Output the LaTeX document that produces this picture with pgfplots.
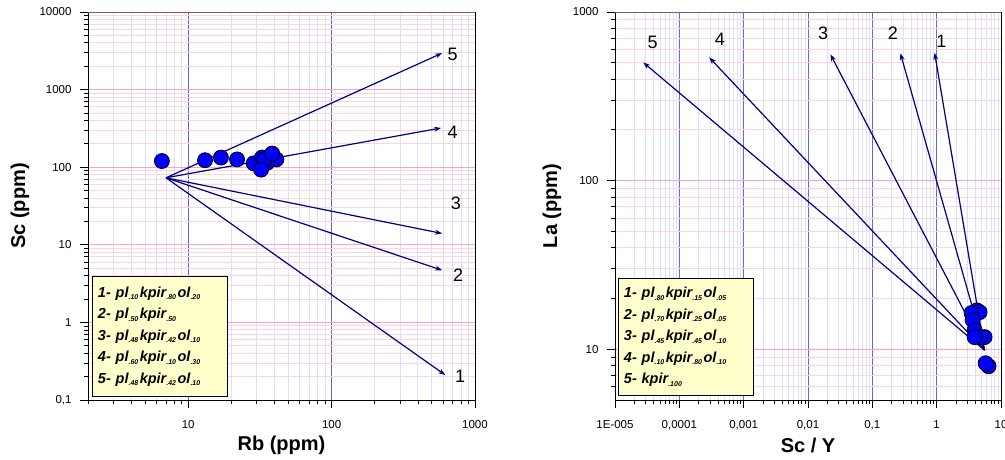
\documentclass[border=0pt]{standalone}
\usepackage{pgfplots}
\pgfplotsset{compat=1.18}
\usepackage{fontspec}
\setmainfont{Liberation Sans}
\usetikzlibrary{arrows.meta}
\definecolor{majx}{RGB}{100,100,230}
\definecolor{minx}{RGB}{222,222,255}
\definecolor{majy}{RGB}{255,160,205}
\definecolor{miny}{RGB}{255,212,220}
\definecolor{navy}{RGB}{0,0,128}
\definecolor{boxc}{RGB}{112,96,112}
\definecolor{legfill}{RGB}{255,255,204}
\definecolor{ptblue}{RGB}{0,0,255}
\newcommand\sub[1]{\raisebox{-0.35ex}{\fontsize{7}{8}\selectfont #1}\hspace{1.5pt}}
\tikzset{mynum/.style={font=\fontsize{18}{20}\selectfont}}
\pgfplotsset{
  mybasechart/.style={
    scale only axis, height=388pt,
    tick pos=left, tick align=outside,
    axis line style={black, line width=0.9pt},
    major tick length=8pt, minor tick length=4.5pt,
    every tick/.style={black, line width=0.8pt},
    grid=both,
    major x grid style={majx, line width=0.9pt},
    minor x grid style={minx, line width=0.9pt},
    major y grid style={majy, line width=0.9pt},
    minor y grid style={miny, line width=0.9pt},
    ticklabel style={font=\fontsize{11.5}{13}\selectfont},
    xticklabel shift=9pt, yticklabel shift=5pt,
    label style={font=\fontsize{20}{24}\selectfont\bfseries},
    xlabel style={at={(axis description cs:0.5,0)}, yshift=-45pt, anchor=center},
    clip=false,
  },
  myarr/.style={navy, line width=1.2pt, -{Stealth[length=7pt,width=5pt]}},
  mypts/.style={only marks, mark=*, mark size=7.5pt, mark options={fill=ptblue, draw=black, line width=0.8pt}},
}
\begin{document}
\begin{tikzpicture}
\useasboundingbox (0,0) rectangle (1005pt,460pt);
% ---------------- left chart ----------------
\begin{axis}[xmode=log, ymode=log, mybasechart, at={(88pt,60pt)}, anchor=south west, width=387pt,
  xmin=2, xmax=1000, ymin=0.1, ymax=10000,
  xtick={10,100,1000}, xticklabels={10,100,1000},
  ytick={0.1,1,10,100,1000,10000}, yticklabels={{0,1},1,10,100,1000,10000},
  minor xtick={2,3,4,5,6,7,8,9,20,30,40,50,60,70,80,90,200,300,400,500,600,700,800,900},
  minor ytick={0.2,0.3,0.4,0.5,0.6,0.7,0.8,0.9,2,3,4,5,6,7,8,9,20,30,40,50,60,70,80,90,200,300,400,500,600,700,800,900,2000,3000,4000,5000,6000,7000,8000,9000},
  xlabel={Rb (ppm)}, ylabel={Sc (ppm)},
  ylabel style={at={(axis description cs:0,0.5)}, yshift=68pt, anchor=center},
]
\addplot[myarr] coordinates {(7,73) (590,2950)};
\addplot[myarr] coordinates {(7,73) (580,320)};
\addplot[myarr] coordinates {(7,73) (590,14)};
\addplot[myarr] coordinates {(7,73) (590,4.7)};
\addplot[myarr] coordinates {(7,73) (620,0.21)};
\addplot[mypts] coordinates {
  (6.55,120) (13.1,123) (16.9,133) (21.9,126) (28.6,112)
  (32.7,133) (41.2,126) (35.5,114) (34,126) (38.5,150) (32.2,93)
};
\node[mynum] at (axis cs:698,2825) {5};
\node[mynum] at (axis cs:698,283) {4};
\node[mynum] at (axis cs:736,34.4) {3};
\node[mynum] at (axis cs:764,4.1) {2};
\node[mynum] at (axis cs:789,0.203) {1};
\draw[boxc, line width=0.9pt] (rel axis cs:0,1) -- (rel axis cs:1,1);
\end{axis}
% ---------------- right chart ----------------
\begin{axis}[xmode=log, ymode=log, mybasechart, at={(615pt,60pt)}, anchor=south west, width=386pt,
  xmin=1e-5, xmax=10, ymin=5, ymax=1000,
  xtick={1e-5,1e-4,1e-3,1e-2,1e-1,1,10}, xticklabels={1E-005,{0,0001},{0,001},{0,01},{0,1},1,10},
  ytick={10,100,1000}, yticklabels={10,100,1000},
  minor xtick={2e-5,3e-5,4e-5,5e-5,6e-5,7e-5,8e-5,9e-5,2e-4,3e-4,4e-4,5e-4,6e-4,7e-4,8e-4,9e-4,2e-3,3e-3,4e-3,5e-3,6e-3,7e-3,8e-3,9e-3,0.02,0.03,0.04,0.05,0.06,0.07,0.08,0.09,0.2,0.3,0.4,0.5,0.6,0.7,0.8,0.9,2,3,4,5,6,7,8,9},
  minor ytick={6,7,8,9,20,30,40,50,60,70,80,90,200,300,400,500,600,700,800,900},
  xlabel={Sc / Y}, ylabel={La (ppm)},
  ylabel style={at={(axis description cs:0,0.5)}, yshift=63pt, anchor=center},
]
\addplot[myarr] coordinates {(5.56,9.86) (0.93,573)};
\addplot[myarr] coordinates {(5.56,9.86) (0.273,569)};
\addplot[myarr] coordinates {(5.56,9.86) (0.0223,561)};
\addplot[myarr] coordinates {(5.56,9.86) (2.91e-4,538)};
\addplot[myarr] coordinates {(5.56,9.86) (2.75e-5,502)};
\addplot[mypts] coordinates {
  (4.22,17.0) (4.65,16.6) (3.49,16.4) (3.62,14.9) (3.89,13.0)
  (5.56,11.8) (4.65,11.8) (3.89,11.8) (6.41,7.93) (5.77,8.26)
};
\node[mynum] at (axis cs:3.85e-5,658) {5};
\node[mynum] at (axis cs:4.27e-4,689) {4};
\node[mynum] at (axis cs:0.0172,748) {3};
\node[mynum] at (axis cs:0.209,748) {2};
\node[mynum] at (axis cs:1.18,673) {1};
\draw[boxc, line width=0.9pt] (rel axis cs:0,1) -- (rel axis cs:1,1);
\end{axis}
% ---------------- legends ----------------
\node[anchor=south west, draw=black, line width=0.9pt, fill=legfill,
      minimum width=135pt, minimum height=120pt, text width=124pt, align=left,
      inner xsep=5pt, font=\fontsize{14.5}{21.5}\selectfont\bfseries\itshape] at (92pt,63pt)
 {1- pl\sub{.10}kpir\sub{.80}ol\sub{.20}\\
  2- pl\sub{.50}kpir\sub{.50}\\
  3- pl\sub{.48}kpir\sub{.42}ol\sub{.10}\\
  4- pl\sub{.60}kpir\sub{.10}ol\sub{.30}\\
  5- pl\sub{.48}kpir\sub{.42}ol\sub{.10}};
\node[anchor=south west, draw=black, line width=0.9pt, fill=legfill,
      minimum width=135pt, minimum height=117pt, text width=124pt, align=left,
      inner xsep=5pt, font=\fontsize{14.5}{21.5}\selectfont\bfseries\itshape] at (618pt,64pt)
 {1- pl\sub{.80}kpir\sub{.15}ol\sub{.05}\\
  2- pl\sub{.70}kpir\sub{.25}ol\sub{.05}\\
  3- pl\sub{.45}kpir\sub{.45}ol\sub{.10}\\
  4- pl\sub{.10}kpir\sub{.80}ol\sub{.10}\\
  5- kpir\sub{.100}};
\end{tikzpicture}
\end{document}
